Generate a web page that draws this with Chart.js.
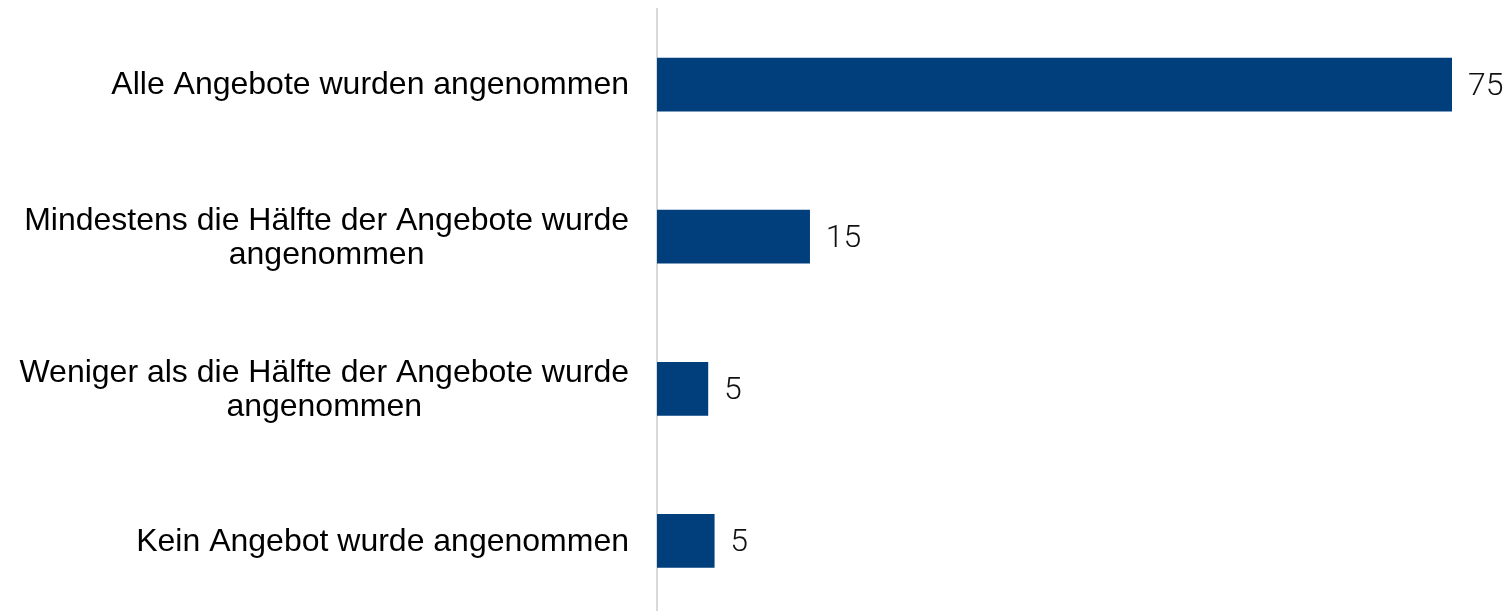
<!DOCTYPE html>
<html>
<head>
<meta charset="utf-8">
<script src="https://cdn.jsdelivr.net/npm/chart.js@4/dist/chart.umd.min.js"></script>
<style>
  html, body { margin: 0; padding: 0; background: #fff; overflow: hidden; }
  #wrap { position: relative; width: 1503px; height: 617px; }
</style>
</head>
<body>
<div id="wrap"><canvas id="chart"></canvas></div>
<script>
// categories (multi-line labels as arrays)
const categories = [
    ['Alle Angebote wurden angenommen'],
    ['Mindestens die Hälfte der Angebote wurde', 'angenommen'],
    ['Weniger als die Hälfte der Angebote wurde', 'angenommen'],
    ['Kein Angebot wurde angenommen']
];
// bar lengths (labels shown rounded)
const values = [75, 14.4, 4.8, 5.4];
const valueLabels = ['75', '15', '5', '5'];

const barColor = '#003e7c';

// draws category labels (centered lines, right edge aligned) and value labels
const labelPlugin = {
    id: 'labels',
    afterDatasetsDraw(chart) {
        const ctx = chart.ctx;
        const yScale = chart.scales.y;
        const meta = chart.getDatasetMeta(0);
        ctx.save();
        ctx.fillStyle = '#000';
        ctx.textBaseline = 'middle';

        ctx.font = '32px "Liberation Sans", Arial, sans-serif';
        const right = chart.chartArea.left - 28;
        categories.forEach((lines, i) => {
            const yc = yScale.getPixelForTick(i);
            const widest = Math.max(...lines.map(l => ctx.measureText(l).width));
            const cx = right - widest / 2;
            const lh = 34;
            const y0 = yc - (lines.length - 1) * lh / 2 + 1;
            ctx.textAlign = 'center';
            lines.forEach((l, j) => ctx.fillText(l, cx, y0 + j * lh));
        });

        ctx.font = '300 32px Roboto, sans-serif';
        ctx.fillStyle = '#111';
        ctx.textAlign = 'left';
        meta.data.forEach((bar, i) => {
            ctx.fillText(valueLabels[i], bar.x + 16, bar.y + 2);
        });
        ctx.restore();
    }
};

new Chart(document.getElementById('chart'), {
    type: 'bar',
    data: {
        labels: categories,
        datasets: [{
            data: values,
            backgroundColor: barColor,
            barThickness: 53
        }]
    },
    options: {
        indexAxis: 'y',
        responsive: true,
        maintainAspectRatio: false,
        animation: false,
        layout: { padding: { left: 649, right: 51, top: 8.5, bottom: 0 } },
        plugins: {
            legend: { display: false },
            tooltip: { enabled: false }
        },
        scales: {
            x: {
                min: 0,
                max: 75,
                display: false
            },
            y: {
                grid: { display: false },
                ticks: { display: false },
                border: { display: true, color: '#d9d9d9', width: 2 }
            }
        }
    },
    plugins: [labelPlugin]
});
</script>
</body>
</html>
